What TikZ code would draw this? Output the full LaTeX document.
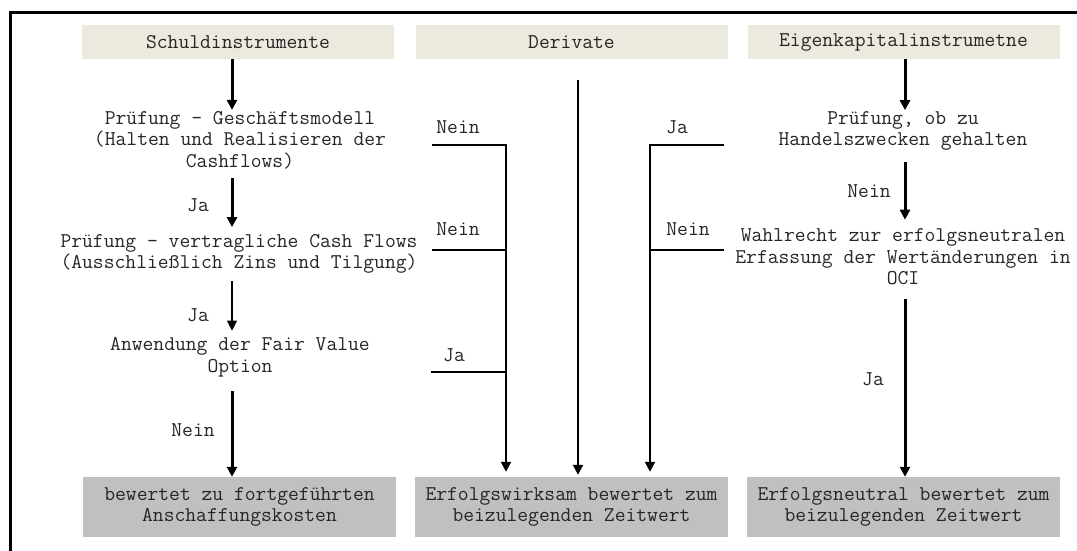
\documentclass[tikz,border=0pt]{standalone}
\usepackage{fontspec}
\usepackage{tikz}
\usetikzlibrary{arrows.meta, positioning}
\usepackage{xcolor}
\definecolor{headfill}{RGB}{236, 233, 223}
\definecolor{resfill}{RGB}{192, 192, 192}

\begin{document}
\begin{tikzpicture}[x=1pt, y=-1pt, >={Triangle[length=10pt, width=10pt]},
  font=\ttfamily\fontsize{21}{21.5}\selectfont, text=black!85,
  head/.style={fill=headfill, minimum width=312pt, minimum height=34pt, inner sep=0pt},
  result/.style={fill=resfill, minimum width=313pt, minimum height=60pt, inner sep=0pt, align=center},
  check/.style={align=center, inner sep=0pt},
  lbl/.style={inner sep=0pt},
  flow/.style={->, line width=3pt},
  branch/.style={->, line width=2pt}]
  \useasboundingbox (0, 0) rectangle (1077, 551);

  % frame
  \draw[line width=3pt] (10.5, 551) -- (10.5, 12.5) -- (1077, 12.5);

  % headers
  \node[head] (h1) at (238, 42) {Schuldinstrumente};
  \node[head] (h2) at (571.5, 42) {Derivate};
  \node[head] (h3) at (903.5, 42) {Eigenkapitalinstrumetne};

  % results
  \node[result] (b1) at (239.5, 507) {bewertet zu fortgeführten\\Anschaffungskosten};
  \node[result] (b2) at (571.5, 507) {Erfolgswirksam bewertet zum\\beizulegenden Zeitwert};
  \node[result] (b3) at (903.5, 507) {Erfolgsneutral bewertet zum\\beizulegenden Zeitwert};

  % Schuldinstrumente
  \node[check] (p1) at (240, 140) {Prüfung – Geschäftsmodell\\(Halten und Realisieren der\\Cashflows)};
  \node[check] (p2) at (239, 254) {Prüfung – vertragliche Cash Flows\\(Ausschließlich Zins und Tilgung)};
  \node[check] (p3) at (240, 357.5) {Anwendung der Fair Value\\Option};
  \coordinate (c1) at (232, 0);
  \draw[flow, shorten >=1pt] (h1.south -| c1) -- (p1.north -| c1);
  \draw[flow, shorten <=9pt, shorten >=7pt] (p1.south -| c1) -- (p2.north -| c1);
  \draw[->, line width=1.3pt, shorten <=7pt, shorten >=7pt] (p2.south -| c1) -- (p3.north -| c1);
  \draw[flow, shorten <=14pt] (p3.south -| c1) -- (b1.north -| c1);
  \node[lbl] (ja1) at (198, 205) {Ja};
  \node[lbl] (ja2) at (198, 315) {Ja};
  \node[lbl] (nein1) at (193, 430) {Nein};

  % Derivate
  \coordinate (n1) at (432, 145);
  \coordinate (n2) at (432, 250);
  \coordinate (j1) at (431, 372);
  \coordinate (t1) at (506, 145);
  \coordinate (m1) at (578, 80);
  \coordinate (j2) at (724, 145);
  \coordinate (n3) at (724, 250);
  \coordinate (t2) at (650, 145);
  \draw[branch, shorten >=5pt] (n1) -- (t1) -- (t1 |- b2.north);
  \draw[line width=2pt] (n2) -- (n2 -| t1);
  \draw[line width=2pt] (j1) -- (j1 -| t1);
  \draw[branch, shorten >=2pt] (m1) -- (m1 |- b2.north);
  \draw[branch, shorten >=5pt] (j2) -- (t2) -- (t2 |- b2.north);
  \draw[line width=2pt] (n3) -- (n3 -| t2);
  \node[lbl] (nein2) at (458, 127) {Nein};
  \node[lbl] (nein3) at (458, 229) {Nein};
  \node[lbl] (ja3) at (454, 355) {Ja};
  \node[lbl] (ja4) at (677, 127) {Ja};
  \node[lbl] (nein4) at (688, 229) {Nein};

  % Eigenkapitalinstrumente
  \node[check] (e1) at (903, 131) {Prüfung, ob zu\\Handelszwecken gehalten};
  \node[check] (e2) at (903, 257) {Wahlrecht zur erfolgsneutralen\\Erfassung der Wertänderungen in\\OCI};
  \coordinate (c3) at (905, 0);
  \draw[flow, shorten >=1pt] (h3.south -| c3) -- (e1.north -| c3);
  \draw[flow, shorten <=11pt, shorten >=9pt] (e1.south -| c3) -- (e2.north -| c3);
  \draw[flow, shorten <=14pt] (e2.south -| c3) -- (b3.north -| c3);
  \node[lbl] (nein5) at (869, 191) {Nein};
  \node[lbl] (ja5) at (873, 379) {Ja};
\end{tikzpicture}
\end{document}
